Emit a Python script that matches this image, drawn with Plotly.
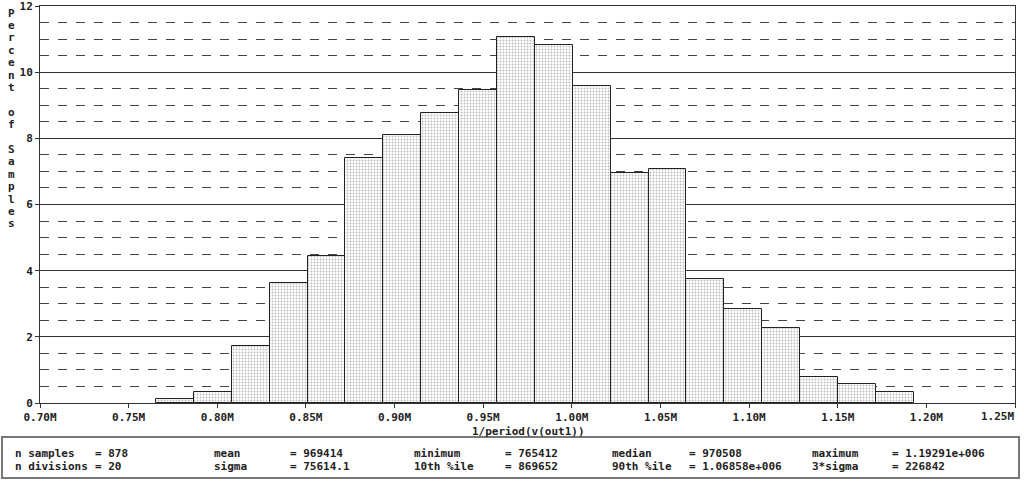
import plotly.graph_objects as go

# ---- data ----
percent = [0.11, 0.34, 1.71, 3.64, 4.44, 7.40, 8.09, 8.77, 9.45, 11.05,
           10.82, 9.57, 6.95, 7.06, 3.76, 2.85, 2.28, 0.80, 0.57, 0.34]
x_min = 765412
x_max = 1192910
n_div = 20
x_ticks = [0.70e6, 0.75e6, 0.80e6, 0.85e6, 0.90e6, 0.95e6, 1.00e6, 1.05e6,
           1.10e6, 1.15e6, 1.20e6, 1.25e6]
x_tick_labels = ["0.70M", "0.75M", "0.80M", "0.85M", "0.90M", "0.95M", "1.00M",
                 "1.05M", "1.10M", "1.15M", "1.20M", "1.25M"]
y_ticks = [0, 2, 4, 6, 8, 10, 12]
x_title = "1/period(v(out1))"
y_title_words = ["Percent", "of", "Samples"]
stats_labels = [["n samples", "mean", "minimum", "median", "maximum"],
                ["n divisions", "sigma", "10th %ile", "90th %ile", "3*sigma"]]
stats_values = [["= 878", "= 969414", "= 765412", "= 970508", "= 1.19291e+006"],
                ["= 20", "= 75614.1", "= 869652", "= 1.06858e+006", "= 226842"]]

bw = (x_max - x_min) / n_div
centers = [x_min + bw * (i + 0.5) for i in range(n_div)]

W, H = 1024, 485
L, R, T, B = 40, 9, 6, 82
pw, ph = W - L - R, H - T - B

def px(x):
    return (x - L) / pw

def py(y):
    return (H - B - y) / ph

FONT = "DejaVu Sans Mono"
TXT = dict(family=FONT, size=11, color="#222222", weight="bold")

fig = go.Figure()
fig.add_trace(go.Bar(
    x=centers, y=percent, width=[bw] * n_div,
    marker=dict(color="white",
                line=dict(color="#222222", width=1),
                pattern=dict(shape=".", fgcolor="#777777", bgcolor="white",
                             size=3, solidity=0.3)),
    hoverinfo="skip",
))

fig.update_layout(
    width=W, height=H,
    margin=dict(l=L, r=R, t=T, b=B, pad=0, autoexpand=False),
    paper_bgcolor="white", plot_bgcolor="white",
    showlegend=False, bargap=0,
    font=dict(family=FONT, size=11, color="#222222"),
)
# last tick label is placed right-aligned (as in the reference) via an annotation
axis_text = x_tick_labels[:-1] + [""]
fig.update_xaxes(
    range=[0.70e6, 1.25e6], tickmode="array", tickvals=x_ticks, ticktext=axis_text,
    showgrid=False, showline=True, linecolor="#333333", linewidth=1, mirror=True,
    ticks="outside", ticklen=4, tickcolor="#333333",
    tickfont=TXT, ticklabeloverflow="allow", automargin=False,
    zeroline=False,
)
fig.update_yaxes(
    range=[0, 12], tickmode="array", tickvals=y_ticks,
    showgrid=True, gridcolor="#333333", gridwidth=1,
    showline=True, linecolor="#333333", linewidth=1, mirror=True,
    ticks="outside", ticklen=4, tickcolor="#333333",
    tickfont=TXT, ticklabeloverflow="allow", automargin=False,
    zeroline=False,
    minor=dict(dtick=0.5, showgrid=True, gridcolor="#444444", griddash="dash",
               gridwidth=1, ticks=""),
)

annotations = []
annotations.append(dict(text=x_tick_labels[-1], x=x_ticks[-1], y=py(416.5), xref="x", yref="paper",
                        showarrow=False, xanchor="right", yanchor="middle", xshift=1, font=TXT))
# x title
annotations.append(dict(text=x_title, x=px(528), y=py(431), xref="paper", yref="paper",
                        showarrow=False, xanchor="center", yanchor="middle", font=TXT))
# vertical y title, one character per line
chars = []
for wi, w in enumerate(y_title_words):
    if wi > 0:
        chars.append("")
    chars.extend(list(w))
for i, ch in enumerate(chars):
    if ch:
        annotations.append(dict(text=ch, x=px(11), y=py(13 + i * 12.4), xref="paper", yref="paper",
                                showarrow=False, xanchor="center", yanchor="middle", font=TXT))
# stats box text
label_x = [13, 212, 412, 610, 810]
value_x = [93, 288, 503, 687, 890]
row_y = [453, 466]
for r in range(2):
    for c in range(5):
        annotations.append(dict(text=stats_labels[r][c], x=px(label_x[c]), y=py(row_y[r]),
                                xref="paper", yref="paper", showarrow=False,
                                xanchor="left", yanchor="middle", font=TXT))
        annotations.append(dict(text=stats_values[r][c], x=px(value_x[c]), y=py(row_y[r]),
                                xref="paper", yref="paper", showarrow=False,
                                xanchor="left", yanchor="middle", font=TXT))
fig.update_layout(annotations=annotations)

fig.add_shape(type="rect", xref="paper", yref="paper",
              x0=px(2), x1=px(1019), y0=py(478), y1=py(437),
              line=dict(color="#777777", width=2), fillcolor="rgba(0,0,0,0)")

fig.write_html("out.html")
